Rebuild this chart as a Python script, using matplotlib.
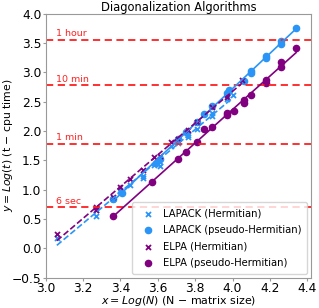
import numpy as np
import matplotlib
matplotlib.use("Agg")
from matplotlib import pyplot as plt

# log10(N) and log10(t) values
lapack_h_x = [3.06, 3.27, 3.27, 3.36, 3.40, 3.40, 3.45, 3.52, 3.52, 3.58, 3.61, 3.61,
              3.67, 3.71, 3.76, 3.76, 3.81, 3.89, 3.89, 3.97, 4.00]
lapack_h_y = [0.17, 0.55, 0.66, 0.85, 0.97, 0.99, 1.08, 1.20, 1.23, 1.42, 1.40, 1.47,
              1.75, 1.79, 1.90, 1.93, 2.04, 2.26, 2.30, 2.54, 2.62]

lapack_p_x = [3.36, 3.41, 3.59, 3.61, 3.71, 3.75, 3.81, 3.85, 3.89, 3.97, 3.98, 4.06,
              4.10, 4.10, 4.18, 4.18, 4.26, 4.26, 4.34]
lapack_p_y = [0.85, 0.94, 1.45, 1.52, 1.86, 1.98, 2.15, 2.29, 2.42, 2.65, 2.70, 2.85,
              2.99, 3.02, 3.24, 3.27, 3.48, 3.53, 3.76]

elpa_h_x = [3.06, 3.27, 3.27, 3.36, 3.40, 3.45, 3.52, 3.58, 3.61, 3.67, 3.71, 3.76,
            3.81, 3.89, 3.97, 4.05]
elpa_h_y = [0.25, 0.66, 0.70, 0.88, 1.04, 1.18, 1.33, 1.56, 1.58, 1.82, 1.86, 2.02,
            2.16, 2.41, 2.58, 2.87]

elpa_p_x = [3.36, 3.57, 3.71, 3.75, 3.81, 3.85, 3.89, 3.97, 3.97, 4.01, 4.06, 4.06,
            4.10, 4.18, 4.18, 4.26, 4.26, 4.34]
elpa_p_y = [0.56, 1.13, 1.52, 1.65, 1.82, 2.03, 2.07, 2.27, 2.30, 2.34, 2.48, 2.52,
            2.61, 2.82, 2.86, 3.09, 3.18, 3.41]

time_marks = {"1 hour": np.log10(3600), "10 min": np.log10(600),
              "1 min": np.log10(60), "6 sec": np.log10(5)}

blue = "#2b95f7"
purple = "#800080"

fig = plt.figure(figsize=(3.19, 3.08), dpi=100)
ax = fig.add_axes([0.143, 0.098, 0.832, 0.858])

for label, y in time_marks.items():
    ax.axhline(y, color="#ff2020", ls="--", lw=1.3, dashes=(4, 2.5))
    ax.text(3.055, y + 0.03, label, color="#ff2020", fontsize=6.8, va="bottom")

series = [
    (lapack_h_x, lapack_h_y, blue, "x", "--", "LAPACK (Hermitian)"),
    (lapack_p_x, lapack_p_y, blue, "o", "-", "LAPACK (pseudo-Hermitian)"),
    (elpa_h_x, elpa_h_y, purple, "x", "--", "ELPA (Hermitian)"),
    (elpa_p_x, elpa_p_y, purple, "o", "-", "ELPA (pseudo-Hermitian)"),
]
for xs, ys, c, m, ls, label in series:
    xs = np.array(xs)
    ys = np.array(ys)
    k, b = np.polyfit(xs, ys, 1)
    xx = np.array([xs.min(), xs.max()])
    ax.plot(xx, k * xx + b, color=c, ls=ls, lw=1.2)
    if m == "x":
        ax.scatter(xs, ys, marker="x", s=13, color=c, linewidths=1.3, label=label)
    else:
        ax.scatter(xs, ys, marker="o", s=20, color=c, label=label)

ax.set_xlim(3.0, 4.42)
ax.set_ylim(-0.5, 4.0)
ax.set_xticks(np.arange(3.0, 4.41, 0.2))
ax.set_yticks(np.arange(-0.5, 4.01, 0.5))
ax.tick_params(labelsize=8.8, color="#999999", length=2.5, pad=0.6)
for s in ax.spines.values():
    s.set_color("#999999")

ax.set_title("Diagonalization Algorithms", fontsize=8.3, pad=1.5)
ax.set_xlabel("$x = Log(N)$ (N $-$ matrix size)", fontsize=7.9, labelpad=-0.5)
ax.set_ylabel("$y = Log(t)$ (t $-$ cpu time)", fontsize=7.8)
ax.yaxis.set_label_coords(-0.115, 0.5)

ax.legend(loc="lower right", fontsize=7.2, handletextpad=0.5, borderpad=0.6,
          labelspacing=0.65, borderaxespad=0.4)

fig.savefig("out.png", dpi=100)
